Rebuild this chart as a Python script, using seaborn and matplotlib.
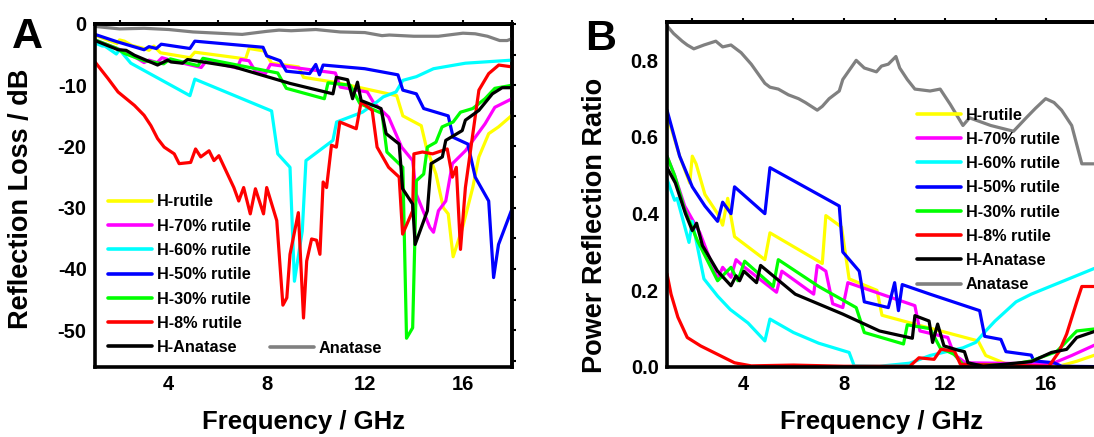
import matplotlib
matplotlib.use("Agg")
import matplotlib.pyplot as plt
import seaborn as sns
import pandas as pd
from matplotlib.ticker import FixedLocator

# ---------------- Panel A data: reflection loss (dB) ----------------
labels = ["H-rutile", "H-70% rutile", "H-60% rutile", "H-50% rutile",
          "H-30% rutile", "H-8% rutile", "H-Anatase", "Anatase"]
colors = ["#FFFF00", "#FF00FF", "#00FFFF", "#0000FF",
          "#00FF00", "#FF0000", "#000000", "#808080"]

a_rutile_x = [1.0, 1.5, 1.9, 2.0, 2.2, 2.5, 3.0, 3.2, 3.4, 3.67, 4.87, 5.07, 7.14, 7.28, 7.9, 8.2, 9.3, 9.5, 10.9, 13.3, 13.55, 14.3, 14.5, 14.9, 15.2, 15.4, 15.6, 16.0, 16.4, 16.65, 17.05, 17.45, 18.0]
a_rutile_y = [-1.8, -2.6, -3.2, -2.6, -2.8, -3.5, -4.0, -4.3, -3.6, -4.7, -5.5, -4.6, -5.7, -4.0, -4.4, -6.4, -7.0, -8.7, -9.6, -11.7, -15.0, -16.6, -20.0, -24.5, -30.0, -31.0, -38.0, -33.0, -26.7, -21.7, -17.9, -16.8, -14.9]

a_r70_x = [1.0, 2.3, 3.0, 3.2, 3.53, 3.73, 4.07, 5.33, 5.54, 6.8, 6.94, 7.28, 7.55, 7.95, 8.15, 10.8, 11.0, 12.1, 12.35, 12.97, 13.5, 13.95, 14.1, 14.65, 14.8, 15.0, 15.3, 15.57, 16.1, 16.5, 16.9, 17.3, 18.0]
a_r70_y = [-2.6, -4.6, -6.3, -5.9, -6.3, -5.5, -5.9, -7.1, -6.0, -7.2, -5.8, -6.0, -7.8, -8.1, -6.6, -8.0, -10.3, -11.1, -12.8, -15.2, -20.1, -22.3, -27.8, -33.2, -34.0, -30.5, -28.9, -22.8, -20.7, -18.5, -16.3, -13.6, -12.2]

a_r60_x = [1.0, 1.3, 1.4, 1.87, 2.0, 2.46, 4.87, 5.07, 8.2, 8.45, 8.95, 9.13, 9.45, 9.6, 10.7, 10.85, 11.9, 12.5, 12.75, 13.27, 13.55, 14.1, 14.8, 16.1, 18.0]
a_r60_y = [-3.1, -3.6, -3.6, -4.9, -4.2, -6.4, -11.7, -9.0, -14.2, -21.2, -23.4, -42.0, -33.8, -22.3, -19.0, -16.0, -14.4, -12.7, -11.9, -11.1, -9.2, -8.6, -7.3, -6.4, -5.9]

a_r50_x = [1.0, 1.9, 3.0, 3.2, 3.5, 3.7, 4.87, 5.07, 7.85, 8.0, 8.55, 8.8, 9.75, 10.0, 10.15, 10.3, 12.0, 13.35, 13.55, 14.1, 14.4, 15.4, 15.6, 16.2, 16.5, 17.05, 17.25, 17.45, 18.0]
a_r50_y = [-1.7, -2.9, -4.2, -3.7, -4.0, -3.3, -4.0, -2.8, -3.8, -5.2, -6.0, -7.7, -8.1, -6.6, -8.3, -6.7, -7.3, -8.3, -10.8, -11.4, -13.8, -15.0, -18.5, -19.6, -25.0, -28.9, -41.4, -36.0, -30.2]

a_r30_x = [1.0, 1.9, 2.2, 3.0, 3.5, 3.8, 4.07, 5.2, 5.4, 8.45, 8.8, 10.35, 10.5, 11.4, 11.8, 12.7, 12.9, 13.55, 13.7, 13.95, 14.1, 14.4, 14.55, 14.9, 15.15, 15.6, 15.9, 16.4, 16.9, 17.3, 18.0]
a_r30_y = [-2.6, -4.0, -4.8, -6.0, -6.3, -6.5, -5.7, -6.8, -5.6, -8.0, -10.5, -12.2, -9.6, -10.0, -13.0, -14.6, -20.9, -23.4, -51.3, -49.6, -25.6, -24.5, -20.1, -19.3, -16.8, -16.0, -14.4, -13.8, -12.2, -10.5, -10.0]

a_r8_x = [1.0, 1.53, 1.94, 2.61, 3.0, 3.28, 3.55, 3.82, 4.23, 4.43, 4.9, 5.1, 5.31, 5.65, 5.85, 6.05, 6.66, 6.86, 7.06, 7.33, 7.54, 7.87, 8.0, 8.41, 8.66, 8.82, 8.95, 9.29, 9.5, 9.63, 9.83, 10.03, 10.17, 10.3, 10.44, 10.64, 10.84, 10.98, 11.65, 11.85, 12.3, 12.5, 12.97, 13.4, 13.54, 13.95, 14.0, 14.35, 14.76, 15.36, 15.57, 15.73, 15.9, 16.1, 16.65, 17.05, 17.46, 18.0]
a_r8_y = [-6.2, -8.9, -11.1, -13.3, -14.9, -16.6, -18.7, -20.1, -21.2, -22.8, -22.6, -20.4, -21.7, -20.7, -22.3, -21.5, -26.7, -28.9, -26.7, -31.0, -26.9, -31.0, -26.7, -32.1, -45.9, -44.7, -37.6, -30.8, -48.0, -38.7, -35.1, -35.3, -37.6, -25.8, -26.7, -19.8, -20.1, -16.0, -17.1, -12.7, -14.1, -20.1, -23.4, -25.0, -34.3, -30.5, -21.2, -20.9, -21.2, -20.4, -25.0, -23.4, -36.8, -26.7, -10.8, -8.1, -6.7, -7.0]

a_han_x = [1.0, 1.94, 2.27, 2.61, 3.55, 3.7, 3.96, 4.1, 4.57, 4.77, 6.66, 8.95, 10.7, 10.84, 11.3, 11.5, 11.7, 11.85, 12.66, 12.87, 13.4, 13.54, 13.95, 14.05, 14.55, 14.7, 15.16, 15.3, 15.97, 16.1, 16.65, 17.2, 17.6, 18.0]
a_han_y = [-2.7, -4.2, -4.3, -5.1, -6.7, -6.4, -5.9, -6.2, -6.4, -5.8, -7.0, -9.7, -11.4, -8.7, -9.1, -12.2, -9.5, -12.5, -13.8, -17.9, -19.6, -26.9, -29.4, -36.0, -30.5, -22.8, -21.7, -19.0, -17.4, -15.7, -14.1, -11.4, -10.4, -10.4]

a_ana_x = [1.0, 2.0, 3.0, 4.0, 5.0, 6.0, 7.0, 8.0, 8.5, 9.0, 10.0, 11.0, 12.0, 12.7, 13.0, 14.0, 15.0, 16.0, 16.5, 17.0, 17.5, 17.8, 18.0]
a_ana_y = [-0.4, -0.8, -0.7, -0.9, -1.3, -1.5, -1.7, -1.2, -1.0, -1.1, -0.9, -1.3, -1.4, -1.9, -1.8, -2.0, -2.0, -1.5, -1.6, -2.0, -2.7, -2.7, -2.4]

# ---------------- Panel B data: power reflection ratio ----------------
b_rutile_x = [1.0, 1.5, 1.9, 2.0, 2.15, 2.5, 3.0, 3.2, 3.4, 3.67, 4.87, 5.07, 7.14, 7.28, 7.9, 8.2, 9.3, 9.5, 10.9, 13.3, 13.6, 14.6, 16.5, 17.2, 18.0]
b_rutile_y = [0.66, 0.55, 0.48, 0.55, 0.53, 0.45, 0.40, 0.37, 0.44, 0.34, 0.28, 0.35, 0.27, 0.395, 0.365, 0.23, 0.20, 0.135, 0.11, 0.068, 0.03, 0.003, 0.002, 0.015, 0.033]

b_r70_x = [1.0, 1.3, 1.7, 2.3, 3.0, 3.2, 3.53, 3.73, 4.07, 5.33, 5.54, 6.8, 6.94, 7.28, 7.55, 7.95, 8.15, 10.8, 11.0, 12.1, 12.35, 12.8, 16.2, 17.0, 18.0]
b_r70_y = [0.55, 0.50, 0.42, 0.35, 0.23, 0.26, 0.234, 0.28, 0.26, 0.195, 0.25, 0.19, 0.265, 0.25, 0.165, 0.155, 0.22, 0.16, 0.094, 0.077, 0.033, 0.011, 0.008, 0.03, 0.06]

b_r60_x = [1.0, 1.3, 1.4, 1.87, 2.0, 2.46, 3.0, 3.5, 4.2, 4.87, 5.07, 6.0, 7.0, 8.2, 8.4, 9.4, 10.6, 11.4, 12.7, 13.2, 13.6, 13.97, 14.8, 15.4, 16.7, 18.0]
b_r60_y = [0.49, 0.435, 0.44, 0.325, 0.38, 0.23, 0.185, 0.15, 0.115, 0.068, 0.125, 0.09, 0.062, 0.038, 0.003, 0.002, 0.01, 0.03, 0.05, 0.064, 0.094, 0.12, 0.17, 0.19, 0.225, 0.26]

b_r50_x = [1.0, 1.5, 2.0, 2.5, 3.0, 3.2, 3.53, 3.67, 4.87, 5.07, 7.81, 7.95, 8.6, 8.8, 9.75, 10.0, 10.15, 10.3, 11.4, 13.36, 13.56, 14.2, 14.4, 15.4, 15.5, 16.3, 16.6, 18.0]
b_r50_y = [0.67, 0.55, 0.47, 0.42, 0.38, 0.43, 0.40, 0.47, 0.40, 0.52, 0.42, 0.30, 0.25, 0.17, 0.155, 0.22, 0.147, 0.215, 0.19, 0.147, 0.08, 0.072, 0.04, 0.031, 0.016, 0.011, 0.002, 0.001]

b_r30_x = [1.0, 1.3, 1.7, 2.2, 3.0, 3.53, 3.8, 4.07, 5.2, 5.4, 7.0, 8.48, 8.8, 10.35, 10.5, 11.4, 11.8, 12.35, 12.7, 14.5, 15.4, 16.4, 17.2, 18.0]
b_r30_y = [0.55, 0.50, 0.41, 0.33, 0.225, 0.26, 0.225, 0.276, 0.21, 0.28, 0.21, 0.155, 0.09, 0.06, 0.11, 0.10, 0.05, 0.033, 0.007, 0.005, 0.016, 0.04, 0.094, 0.10]

b_r8_x = [1.0, 1.16, 1.43, 1.8, 2.33, 3.0, 3.67, 4.33, 6.0, 8.0, 10.6, 10.96, 11.56, 11.83, 12.36, 12.6, 16.1, 16.5, 16.8, 17.2, 17.4, 18.0]
b_r8_y = [0.243, 0.19, 0.13, 0.077, 0.055, 0.033, 0.011, 0.003, 0.005, 0.002, 0.002, 0.024, 0.02, 0.046, 0.042, 0.007, 0.002, 0.04, 0.086, 0.17, 0.21, 0.21]

b_han_x = [1.0, 1.33, 1.73, 2.0, 2.17, 2.4, 3.0, 3.53, 3.73, 3.87, 4.04, 4.54, 4.7, 6.07, 7.95, 9.4, 10.7, 10.8, 11.36, 11.5, 11.7, 11.95, 12.5, 12.76, 12.9, 13.5, 15.4, 16.2, 16.8, 17.2, 18.0]
b_han_y = [0.52, 0.48, 0.40, 0.356, 0.375, 0.317, 0.25, 0.212, 0.238, 0.225, 0.25, 0.22, 0.265, 0.19, 0.138, 0.094, 0.075, 0.134, 0.12, 0.064, 0.112, 0.055, 0.044, 0.04, 0.011, 0.002, 0.014, 0.038, 0.046, 0.077, 0.095]

b_ana_x = [1.0, 1.26, 1.6, 1.8, 2.06, 2.46, 2.93, 3.2, 3.53, 3.93, 4.33, 4.87, 5.07, 5.4, 5.8, 6.2, 6.47, 6.94, 7.14, 7.41, 7.81, 7.95, 8.48, 8.8, 9.28, 9.48, 9.75, 10.05, 10.2, 10.5, 10.8, 11.4, 11.8, 12.2, 12.7, 12.96, 13.8, 14.7, 15.2, 15.57, 15.97, 16.3, 16.6, 17.0, 17.4, 17.7, 18.0]
b_ana_y = [0.89, 0.87, 0.85, 0.84, 0.83, 0.84, 0.85, 0.835, 0.84, 0.82, 0.79, 0.74, 0.73, 0.725, 0.71, 0.70, 0.69, 0.67, 0.68, 0.70, 0.72, 0.75, 0.80, 0.78, 0.77, 0.785, 0.79, 0.81, 0.78, 0.75, 0.725, 0.72, 0.725, 0.685, 0.63, 0.65, 0.63, 0.615, 0.65, 0.675, 0.70, 0.69, 0.67, 0.63, 0.53, 0.53, 0.53]

x_major = [4, 8, 12, 16]
x_minor = [2, 6, 10, 14, 18]
a_yticks = [-50, -40, -30, -20, -10, 0]
b_yticks = [0.0, 0.2, 0.4, 0.6, 0.8]

a_series = [(a_rutile_x, a_rutile_y), (a_r70_x, a_r70_y), (a_r60_x, a_r60_y),
            (a_r50_x, a_r50_y), (a_r30_x, a_r30_y), (a_r8_x, a_r8_y),
            (a_han_x, a_han_y), (a_ana_x, a_ana_y)]
b_series = [(b_rutile_x, b_rutile_y), (b_r70_x, b_r70_y), (b_r60_x, b_r60_y),
            (b_r50_x, b_r50_y), (b_r30_x, b_r30_y), (b_r8_x, b_r8_y),
            (b_han_x, b_han_y), (b_ana_x, b_ana_y)]

# ---------------- style ----------------
sns.set_style("white")
plt.rcParams["font.family"] = ["Liberation Sans", "DejaVu Sans"]
plt.rcParams["font.weight"] = "bold"
plt.rcParams["axes.labelweight"] = "bold"
plt.rcParams["axes.unicode_minus"] = False
for key in ("text.color", "axes.labelcolor", "xtick.color", "ytick.color",
            "axes.edgecolor"):
    plt.rcParams[key] = "black"

W, H = 1094, 437
fig = plt.figure(figsize=(W / 100, H / 100), dpi=100)
axA = fig.add_axes([95 / W, 70 / H, 417 / W, 343 / H])
axB = fig.add_axes([667 / W, 70 / H, 430 / W, 345 / H])

LW = 2.3
for ax, series in ((axA, a_series), (axB, b_series)):
    for (xs, ys), lab, col in zip(series, labels, colors):
        df = pd.DataFrame({"f": xs, "v": ys})
        sns.lineplot(data=df, x="f", y="v", ax=ax, color=col, lw=LW,
                     estimator=None, sort=False, label=lab, legend=False)


def style_axes(ax, yticks, ylim, yminor, yfmt, mirror_right=True):
    ax.set_xlim(1, 18)
    ax.set_ylim(*ylim)
    ax.xaxis.set_major_locator(FixedLocator(x_major))
    ax.xaxis.set_minor_locator(FixedLocator(x_minor))
    ax.yaxis.set_major_locator(FixedLocator(yticks))
    ax.yaxis.set_minor_locator(FixedLocator(yminor))
    ax.set_yticklabels([yfmt(t) for t in yticks])
    ax.set_xticklabels([str(t) for t in x_major])
    ax.tick_params(which="both", direction="in", width=2.4, labelsize=14.5,
                   top=False, right=False, pad=6, colors="black")
    ax.tick_params(which="major", length=5)
    ax.tick_params(which="minor", length=4)
    for lab in ax.get_xticklabels() + ax.get_yticklabels():
        lab.set_fontweight("bold")
    for s in ax.spines.values():
        s.set_linewidth(2.6)
        s.set_color("black")
        s.set_visible(True)
    sec = ax.secondary_xaxis("top")
    sec.xaxis.set_major_locator(FixedLocator(x_major + x_minor))
    sec.tick_params(direction="out", length=3, width=1.5, labeltop=False,
                    colors="black")
    sec.spines["top"].set_linewidth(2.8)
    sec.spines["top"].set_color("black")
    if mirror_right:
        secy = ax.secondary_yaxis("right")
        secy.yaxis.set_major_locator(FixedLocator(list(yticks) + list(yminor)))
        secy.tick_params(direction="out", length=3, width=1.5, labelright=False,
                         colors="black")
        secy.spines["right"].set_linewidth(2.6)
        secy.spines["right"].set_color("black")


style_axes(axA, a_yticks, (-56, 0), [-55, -45, -35, -25, -15, -5],
           lambda t: f"{t:d}")
style_axes(axB, b_yticks, (0, 0.9), [0.1, 0.3, 0.5, 0.7],
           lambda t: f"{t:.1f}", mirror_right=False)

for ax in (axA, axB):
    ax.set_xlabel("Frequency / GHz", fontsize=18.5, fontweight="bold",
                  color="black")
    ax.xaxis.set_label_coords(0.5, -0.125)
axA.set_ylabel("Reflection Loss / dB", fontsize=19.5, fontweight="bold",
               color="black")
axB.set_ylabel("Power Reflection Ratio", fontsize=19.5, fontweight="bold",
               color="black")
axA.yaxis.set_label_coords(-0.146, 0.49)
axB.yaxis.set_label_coords(-0.137, 0.41)

fig.text(12 / W, 1 - 48 / H, "A", fontsize=31, fontweight="bold", color="black")
fig.text(585 / W, 1 - 50 / H, "B", fontsize=31, fontweight="bold", color="black")

# ---------------- legends ----------------
leg_kw = dict(frameon=False, fontsize=11.7, handlelength=2.7, handletextpad=0.3,
              labelspacing=0.57, borderpad=0, borderaxespad=0, labelcolor="black")
linesA = axA.get_lines()[:8]
legA1 = axA.legend(linesA[:7], labels[:7], loc="upper left",
                   bbox_to_anchor=(0.031, 0.503), **leg_kw)
for h in legA1.legend_handles:
    h.set_linewidth(2.6)
axA.add_artist(legA1)
legA2 = axA.legend([linesA[7]], [labels[7]], loc="upper left",
                   bbox_to_anchor=(0.42, 0.077), **leg_kw)
for h in legA2.legend_handles:
    h.set_linewidth(2.6)

linesB = axB.get_lines()[:8]
legB = axB.legend(linesB, labels, loc="upper left",
                  bbox_to_anchor=(0.581, 0.752), **leg_kw)
for h in legB.legend_handles:
    h.set_linewidth(2.6)

fig.savefig("out.png", dpi=100)
